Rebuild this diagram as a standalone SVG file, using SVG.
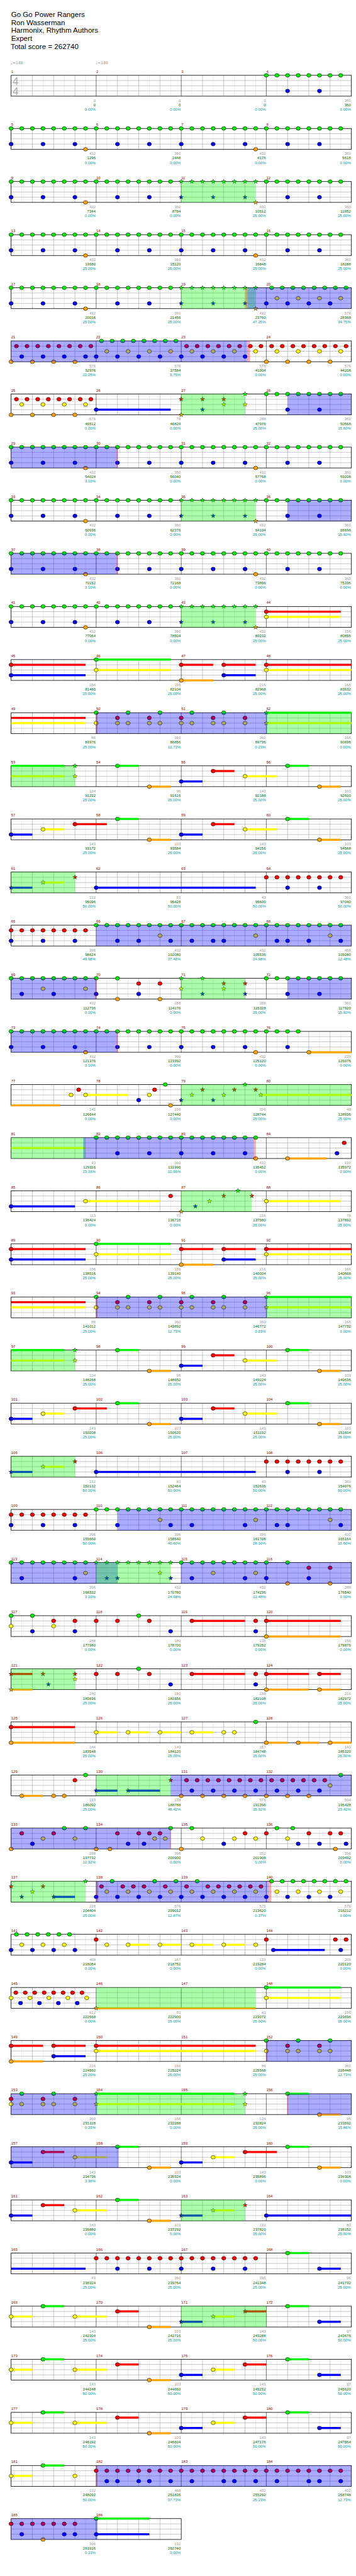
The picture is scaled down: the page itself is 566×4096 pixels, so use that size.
<svg xmlns="http://www.w3.org/2000/svg" width="566" height="4096" viewBox="0 0 566 4096">
<style>
text{font-family:"Liberation Sans",Arial,sans-serif}
.h{font-size:21px;fill:#000}
.n{font-size:11px;fill:#900}
.a{font-size:11px;fill:#999;text-anchor:end}
.b{font-size:11px;fill:#060;text-anchor:end}
.c{font-size:11px;fill:#099;text-anchor:end}
.tp{font-size:11px;fill:#999;font-family:"DejaVu Sans",sans-serif}
.ts{font-size:31px;fill:#aaa;text-anchor:middle}
.zg{fill:#00f000}.zr{fill:#f00}.zy{fill:#ff0}.zb{fill:#00f}.zo{fill:#ffa500}
.ob{fill:#00f;fill-opacity:.33}.og{fill:#0f0;fill-opacity:.33}.oR{fill:#f00;fill-opacity:.33}
</style>
<defs>
<ellipse id="nt" rx="6" ry="5.3" stroke="#000" stroke-width="1"/>
<use id="G" href="#nt" fill="#00f000"/>
<use id="R" href="#nt" y="15" fill="#f00"/>
<use id="Y" href="#nt" y="30" fill="#ff0"/>
<use id="B" href="#nt" y="45" fill="#00f"/>
<use id="O" href="#nt" y="60" fill="#ffa500"/>
<polygon id="st" points="0,-6.5 1.53,-2.1 6.18,-2.01 2.47,0.8 3.82,5.26 0,2.6 -3.82,5.26 -2.47,0.8 -6.18,-2.01 -1.53,-2.1" stroke="#000" stroke-width="0.8"/>
<use id="SG" href="#st" fill="#0f0"/>
<use id="SR" href="#st" y="15" fill="#f00"/>
<use id="SY" href="#st" y="30" fill="#ff0"/>
<use id="SB" href="#st" y="45" fill="#00f"/>
<use id="SO" href="#st" y="60" fill="#ffa500"/>
<g id="grid4" fill="none">
<path stroke="#ddd" d="M62.6 0V60M123.9 0V60M185.1 0V60M246.4 0V60M307.6 0V60M368.9 0V60M430.1 0V60M491.4 0V60M552.6 0V60M613.9 0V60M675.1 0V60M736.4 0V60M797.6 0V60M858.9 0V60M920.1 0V60M981.4 0V60"/>
<path stroke="#999" d="M93.3 0V60M154.5 0V60M215.8 0V60M338.3 0V60M399.5 0V60M460.8 0V60M583.3 0V60M644.5 0V60M705.8 0V60M828.3 0V60M889.5 0V60M950.8 0V60M32 15H1012M32 30H1012M32 45H1012"/>
<path stroke="#000" d="M277 0V60M522 0V60M767 0V60"/>
<rect x="32" y="0" width="980" height="60" stroke="#000" stroke-width="1.5"/>
</g>
<g id="grid2" fill="none">
<path stroke="#ddd" d="M62.6 0V60M123.9 0V60M185.1 0V60M246.4 0V60M307.6 0V60M368.9 0V60M430.1 0V60M491.4 0V60"/>
<path stroke="#999" d="M93.3 0V60M154.5 0V60M215.8 0V60M338.3 0V60M399.5 0V60M460.8 0V60M32 15H522M32 30H522M32 45H522"/>
<path stroke="#000" d="M277 0V60"/>
<rect x="32" y="0" width="490" height="60" stroke="#000" stroke-width="1.5"/>
</g>
<g id="g8"><use href="#G"/><use href="#G" x="30.6"/><use href="#G" x="61.3"/><use href="#G" x="91.9"/><use href="#G" x="122.5"/><use href="#G" x="153.1"/><use href="#G" x="183.8"/><use href="#G" x="214.4"/></g>
<g id="r8"><use href="#R"/><use href="#R" x="30.6"/><use href="#R" x="61.3"/><use href="#R" x="91.9"/><use href="#R" x="122.5"/><use href="#R" x="153.1"/><use href="#R" x="183.8"/><use href="#R" x="214.4"/></g>
<g id="sg8"><use href="#SG"/><use href="#SG" x="30.6"/><use href="#SG" x="61.3"/><use href="#SG" x="91.9"/><use href="#SG" x="122.5"/><use href="#SG" x="153.1"/><use href="#SG" x="183.8"/><use href="#SG" x="214.4"/></g>
<g id="g8o"><use href="#G" x="15.3"/><use href="#G" x="45.9"/><use href="#G" x="76.6"/><use href="#G" x="107.2"/><use href="#G" x="137.8"/><use href="#G" x="168.4"/><use href="#G" x="199.1"/><use href="#G" x="229.7"/></g>
<g id="r8o"><use href="#R" x="15.3"/><use href="#R" x="45.9"/><use href="#R" x="76.6"/><use href="#R" x="107.2"/><use href="#R" x="137.8"/><use href="#R" x="168.4"/><use href="#R" x="199.1"/><use href="#R" x="229.7"/></g>
<g id="y4o"><use href="#Y" x="30.6"/><use href="#Y" x="91.9"/><use href="#Y" x="153.1"/><use href="#Y" x="214.4"/></g>
<g id="b4o"><use href="#B" x="30.6"/><use href="#B" x="91.9"/><use href="#B" x="153.1"/><use href="#B" x="214.4"/></g>
<g id="b4e"><use href="#B"/><use href="#B" x="61.3"/><use href="#B" x="122.5"/><use href="#B" x="183.8"/></g>
<g id="o4e"><use href="#O"/><use href="#O" x="61.3"/><use href="#O" x="122.5"/><use href="#O" x="183.8"/></g>
<g id="q1"><use href="#g8o"/><use href="#y4o"/><use href="#b4e"/></g>
<g id="q2"><use href="#r8o"/><use href="#b4o"/><use href="#o4e"/></g>
<g id="q3"><use href="#r8o"/><use href="#y4o"/><use href="#b4e"/></g>
<g id="q4"><use href="#r8o"/><use href="#y4o"/><use href="#o4e"/></g>
<g id="mA"><use href="#g8"/><use href="#B"/><use href="#B" x="91.9"/><use href="#B" x="183.8"/><use href="#O" x="214.4"/></g>
<g id="mB"><use href="#g8"/><use href="#B" x="61.3"/><use href="#B" x="153.1"/></g>
<g id="mAS"><use href="#sg8"/><use href="#SB"/><use href="#SB" x="91.9"/><use href="#SB" x="183.8"/><use href="#SO" x="214.4"/></g>
<g id="P7"><use href="#mA" x="32"/><use href="#mB" x="277"/><use href="#mA" x="522"/><use href="#mB" x="767"/><rect class="ob" x="32" y="0" width="306.3" height="60"/><rect class="oR" x="336.5" y="0" width="3" height="60"/></g>
<g id="P11">
<rect class="zr" x="32" y="12" width="214.4" height="6"/><rect class="zb" x="32" y="42" width="214.4" height="6"/><use href="#R" x="32"/><use href="#B" x="32"/>
<rect class="zg" x="277" y="-3" width="214.4" height="6"/><rect class="zy" x="277" y="27" width="214.4" height="6"/><use href="#G" x="277"/><use href="#Y" x="277"/>
<rect class="zr" x="522" y="12" width="91.9" height="6"/><rect class="zo" x="522" y="57" width="91.9" height="6"/><use href="#R" x="522"/><use href="#O" x="522"/>
<rect class="zr" x="644.5" y="12" width="91.9" height="6"/><rect class="zb" x="644.5" y="42" width="91.9" height="6"/><use href="#R" x="644.5"/><use href="#B" x="644.5"/>
<rect class="zr" x="767" y="12" width="245" height="6"/><rect class="zy" x="767" y="27" width="245" height="6"/><use href="#R" x="767"/><use href="#Y" x="767"/>
</g>
<g id="P12">
<rect class="zr" x="32" y="12" width="214.4" height="6"/><rect class="zy" x="32" y="27" width="214.4" height="6"/>
<use href="#G" x="277"/><use href="#Y" x="277"/><use href="#R" x="338.3"/><use href="#R" x="430.1"/><use href="#G" x="368.9"/><use href="#G" x="460.8"/><use href="#Y" x="338.3"/><use href="#Y" x="368.9"/><use href="#Y" x="430.1"/><use href="#Y" x="460.8"/>
<use href="#G" x="552.6"/><use href="#G" x="644.5"/><use href="#R" x="522"/><use href="#R" x="613.9"/><use href="#R" x="705.8"/><use href="#Y" x="522"/><use href="#Y" x="552.6"/><use href="#Y" x="613.9"/><use href="#Y" x="644.5"/><use href="#Y" x="705.8"/>
<rect class="zg" x="767" y="-3" width="245" height="6"/><rect class="zy" x="767" y="27" width="245" height="6"/><use href="#SG" x="767"/><use href="#SY" x="767"/>
<rect class="oR" x="277" y="0" width="4" height="60"/><rect class="ob" x="277" y="0" width="493" height="60"/><rect class="og" x="767" y="0" width="245" height="60"/>
</g>
<g id="P13">
<rect class="zg" x="32" y="-3" width="153.1" height="6"/><rect class="zy" x="32" y="27" width="153.1" height="6"/><use href="#SG" x="215.8"/><use href="#SY" x="215.8"/>
<rect class="zg" x="338.3" y="-3" width="61.2" height="6"/><use href="#G" x="338.3"/><rect class="zo" x="430.1" y="57" width="61.3" height="6"/><use href="#O" x="430.1"/>
<rect class="zb" x="522" y="42" width="61.3" height="6"/><use href="#B" x="522"/><rect class="zr" x="613.9" y="12" width="61.2" height="6"/><use href="#R" x="613.9"/><rect class="zy" x="705.8" y="27" width="91.8" height="6"/><use href="#Y" x="705.8"/>
<rect class="zg" x="828.3" y="-3" width="61.2" height="6"/><use href="#G" x="828.3"/><rect class="zo" x="920.1" y="57" width="61.3" height="6"/><use href="#O" x="920.1"/>
<rect class="og" x="32" y="0" width="183.8" height="60"/>
</g>
<g id="P14">
<rect class="zb" x="32" y="42" width="61.3" height="6"/><use href="#B" x="32"/><rect class="zy" x="123.9" y="27" width="61.2" height="6"/><use href="#Y" x="123.9"/><rect class="zr" x="215.8" y="12" width="91.8" height="6"/><use href="#R" x="215.8"/>
<rect class="zg" x="338.3" y="-3" width="61.2" height="6"/><use href="#G" x="338.3"/><rect class="zo" x="430.1" y="57" width="61.3" height="6"/><use href="#O" x="430.1"/>
<rect class="zb" x="522" y="42" width="61.3" height="6"/><use href="#B" x="522"/><rect class="zr" x="613.9" y="12" width="61.2" height="6"/><use href="#R" x="613.9"/><rect class="zy" x="705.8" y="27" width="91.8" height="6"/><use href="#Y" x="705.8"/>
<rect class="zg" x="828.3" y="-3" width="61.2" height="6"/><use href="#G" x="828.3"/><rect class="zo" x="920.1" y="57" width="61.3" height="6"/><use href="#O" x="920.1"/>
</g>
<g id="P15">
<rect class="zb" x="32" y="42" width="61.3" height="6"/><use href="#SB" x="32"/><rect class="zy" x="123.9" y="27" width="61.2" height="6"/><use href="#SY" x="123.9"/><use href="#SR" x="215.8"/>
<rect class="zb" x="277" y="42" width="459.4" height="6"/><use href="#B" x="277"/>
<use href="#r8" x="767"/><use href="#B" x="828.3"/><use href="#B" x="920.1"/>
<rect class="og" x="32" y="0" width="183.8" height="60"/>
</g>
<g id="P43">
<rect class="zy" x="32" y="27" width="61.3" height="6"/><use href="#Y" x="32"/><rect class="zg" x="123.9" y="-3" width="61.2" height="6"/><use href="#G" x="123.9"/><rect class="zy" x="215.8" y="27" width="91.8" height="6"/><use href="#Y" x="215.8"/>
<rect class="zr" x="338.3" y="12" width="61.2" height="6"/><use href="#R" x="338.3"/><rect class="zo" x="430.1" y="57" width="61.3" height="6"/><use href="#O" x="430.1"/>
<rect class="zb" x="522" y="42" width="61.3" height="6"/><use href="#B" x="522"/><rect class="zy" x="613.9" y="27" width="61.2" height="6"/><use href="#Y" x="613.9"/><rect class="zr" x="705.8" y="12" width="61.2" height="6"/><use href="#R" x="705.8"/>
<rect class="zg" x="828.3" y="-3" width="61.2" height="6"/><use href="#G" x="828.3"/><rect class="zb" x="920.1" y="42" width="61.3" height="6"/><use href="#B" x="920.1"/>
</g>
</defs>
<rect x="0" y="0" width="566" height="4096" fill="#fff"/>
<g transform="scale(0.552)">
<g id="header">
<text class="h" x="32" y="49">Go Go Power Rangers</text>
<text class="h" x="32" y="72">Ron Wasserman</text>
<text class="h" x="32" y="95">Harmonix, Rhythm Authors</text>
<text class="h" x="32" y="118">Expert</text>
<text class="h" x="31" y="141">Total score = 262740</text>
</g>

<g id="row0" transform="translate(0,217)"><use href="#grid4"/>
<text class="tp" x="31" y="-33">♩=188</text><text class="tp" x="276" y="-33">♩=188</text>
<text class="ts" x="45" y="28">4</text><text class="ts" x="45" y="56">4</text>
<use href="#mB" x="767"/>
<text class="n" y="-7"><tspan x="32">1</tspan><tspan x="277">2</tspan><tspan x="522">3</tspan><tspan x="767">4</tspan></text>
<text class="a" y="76"><tspan x="275.5">0</tspan><tspan x="520.5">0</tspan><tspan x="765.5">0</tspan><tspan x="1010.5">360</tspan></text>
<text class="b" y="89"><tspan x="275.5">0</tspan><tspan x="520.5">0</tspan><tspan x="765.5">0</tspan><tspan x="1010.5">360</tspan></text>
<text class="c" y="102"><tspan x="275.5">0.00%</tspan><tspan x="520.5">0.00%</tspan><tspan x="765.5">0.00%</tspan><tspan x="1010.5">0.00%</tspan></text>
</g>

<g id="row1" transform="translate(0,370)"><use href="#grid4"/>
<use href="#mA" x="32"/><use href="#mB" x="277"/><use href="#mA" x="522"/><use href="#mB" x="767"/>
<text class="n" y="-7"><tspan x="32">5</tspan><tspan x="277">6</tspan><tspan x="522">7</tspan><tspan x="767">8</tspan></text>
<text class="a" y="76"><tspan x="275.5">432</tspan><tspan x="520.5">360</tspan><tspan x="765.5">432</tspan><tspan x="1010.5">360</tspan></text>
<text class="b" y="89"><tspan x="275.5">1296</tspan><tspan x="520.5">2448</tspan><tspan x="765.5">4176</tspan><tspan x="1010.5">5616</tspan></text>
<text class="c" y="102"><tspan x="275.5">0.00%</tspan><tspan x="520.5">0.00%</tspan><tspan x="765.5">0.00%</tspan><tspan x="1010.5">0.00%</tspan></text>
</g>

<g id="row2" transform="translate(0,523)"><use href="#grid4"/>
<use href="#mA" x="32"/><use href="#mB" x="277"/><use href="#mAS" x="522"/><use href="#mB" x="767"/>
<rect class="og" x="522" y="0" width="214.4" height="60"/>
<text class="n" y="-7"><tspan x="32">9</tspan><tspan x="277">10</tspan><tspan x="522">11</tspan><tspan x="767">12</tspan></text>
<text class="a" y="76"><tspan x="275.5">432</tspan><tspan x="520.5">360</tspan><tspan x="765.5">432</tspan><tspan x="1010.5">360</tspan></text>
<text class="b" y="89"><tspan x="275.5">7344</tspan><tspan x="520.5">8784</tspan><tspan x="765.5">10512</tspan><tspan x="1010.5">11952</tspan></text>
<text class="c" y="102"><tspan x="275.5">0.00%</tspan><tspan x="520.5">0.00%</tspan><tspan x="765.5">25.00%</tspan><tspan x="1010.5">25.00%</tspan></text>
</g>

<g id="row3" transform="translate(0,676)"><use href="#grid4"/>
<use href="#mA" x="32"/><use href="#mB" x="277"/><use href="#mA" x="522"/><use href="#mB" x="767"/>
<text class="n" y="-7"><tspan x="32">13</tspan><tspan x="277">14</tspan><tspan x="522">15</tspan><tspan x="767">16</tspan></text>
<text class="a" y="76"><tspan x="275.5">432</tspan><tspan x="520.5">360</tspan><tspan x="765.5">432</tspan><tspan x="1010.5">360</tspan></text>
<text class="b" y="89"><tspan x="275.5">13680</tspan><tspan x="520.5">15120</tspan><tspan x="765.5">16848</tspan><tspan x="1010.5">18288</tspan></text>
<text class="c" y="102"><tspan x="275.5">25.00%</tspan><tspan x="520.5">25.00%</tspan><tspan x="765.5">25.00%</tspan><tspan x="1010.5">25.00%</tspan></text>
</g>

<g id="row4" transform="translate(0,829)"><use href="#grid4"/>
<use href="#mA" x="32"/><use href="#mB" x="277"/><use href="#mAS" x="522"/><use href="#q1" x="767"/>
<rect class="og" x="522" y="0" width="214.4" height="60"/><rect class="oR" x="707" y="0" width="6" height="60"/><rect class="ob" x="713" y="0" width="299" height="60"/>
<text class="n" y="-7"><tspan x="32">17</tspan><tspan x="277">18</tspan><tspan x="522">19</tspan><tspan x="767">20</tspan></text>
<text class="a" y="76"><tspan x="275.5">432</tspan><tspan x="520.5">360</tspan><tspan x="765.5">432</tspan><tspan x="1010.5">576</tspan></text>
<text class="b" y="89"><tspan x="275.5">20016</tspan><tspan x="520.5">21456</tspan><tspan x="765.5">23760</tspan><tspan x="1010.5">28368</tspan></text>
<text class="c" y="102"><tspan x="275.5">25.00%</tspan><tspan x="520.5">25.00%</tspan><tspan x="765.5">47.25%</tspan><tspan x="1010.5">34.75%</tspan></text>
</g>

<g id="row5" transform="translate(0,982)"><use href="#grid4"/>
<use href="#q2" x="32"/><use href="#q1" x="277"/><use href="#q3" x="522"/><use href="#q4" x="767"/>
<rect class="ob" x="32" y="0" width="681" height="60"/><rect class="oR" x="713" y="0" width="7" height="60"/>
<text class="n" y="-7"><tspan x="32">21</tspan><tspan x="277">22</tspan><tspan x="522">23</tspan><tspan x="767">24</tspan></text>
<text class="a" y="76"><tspan x="275.5">576</tspan><tspan x="520.5">576</tspan><tspan x="765.5">576</tspan><tspan x="1010.5">576</tspan></text>
<text class="b" y="89"><tspan x="275.5">32976</tspan><tspan x="520.5">37584</tspan><tspan x="765.5">41904</tspan><tspan x="1010.5">44208</tspan></text>
<text class="c" y="102"><tspan x="275.5">22.25%</tspan><tspan x="520.5">9.75%</tspan><tspan x="765.5">0.00%</tspan><tspan x="1010.5">0.00%</tspan></text>
</g>

<g id="row6" transform="translate(0,1135)"><use href="#grid4"/>
<use href="#q4" x="32"/>
<rect class="zb" x="277" y="42" width="214.4" height="6"/><use href="#B" x="277"/>
<use href="#SR" x="522"/><use href="#SO" x="522"/><use href="#SR" x="583.3"/><use href="#SB" x="583.3"/><use href="#SR" x="644.5"/><use href="#SY" x="644.5"/><use href="#SG" x="705.8"/><use href="#SY" x="705.8"/>
<use href="#mB" x="767"/>
<rect class="og" x="522" y="0" width="183.8" height="60"/><rect class="ob" x="828.3" y="0" width="183.7" height="60"/>
<text class="n" y="-7"><tspan x="32">25</tspan><tspan x="277">26</tspan><tspan x="522">27</tspan><tspan x="767">28</tspan></text>
<text class="a" y="76"><tspan x="275.5">576</tspan><tspan x="520.5">78</tspan><tspan x="765.5">288</tspan><tspan x="1010.5">360</tspan></text>
<text class="b" y="89"><tspan x="275.5">46512</tspan><tspan x="520.5">46824</tspan><tspan x="765.5">47976</tspan><tspan x="1010.5">50568</tspan></text>
<text class="c" y="102"><tspan x="275.5">0.00%</tspan><tspan x="520.5">0.00%</tspan><tspan x="765.5">25.00%</tspan><tspan x="1010.5">15.60%</tspan></text>
</g>

<g id="row7" transform="translate(0,1288)"><use href="#grid4"/><use href="#P7"/>
<text class="n" y="-7"><tspan x="32">29</tspan><tspan x="277">30</tspan><tspan x="522">31</tspan><tspan x="767">32</tspan></text>
<text class="a" y="76"><tspan x="275.5">432</tspan><tspan x="520.5">360</tspan><tspan x="765.5">432</tspan><tspan x="1010.5">360</tspan></text>
<text class="b" y="89"><tspan x="275.5">54024</tspan><tspan x="520.5">56040</tspan><tspan x="765.5">57768</tspan><tspan x="1010.5">59208</tspan></text>
<text class="c" y="102"><tspan x="275.5">3.10%</tspan><tspan x="520.5">0.00%</tspan><tspan x="765.5">0.00%</tspan><tspan x="1010.5">0.00%</tspan></text>
</g>

<g id="row8" transform="translate(0,1441)"><use href="#grid4"/>
<use href="#mA" x="32"/><use href="#mB" x="277"/><use href="#mAS" x="522"/><use href="#mB" x="767"/>
<rect class="og" x="522" y="0" width="214.4" height="60"/><rect class="ob" x="828.3" y="0" width="183.7" height="60"/>
<text class="n" y="-7"><tspan x="32">33</tspan><tspan x="277">34</tspan><tspan x="522">35</tspan><tspan x="767">36</tspan></text>
<text class="a" y="76"><tspan x="275.5">432</tspan><tspan x="520.5">360</tspan><tspan x="765.5">432</tspan><tspan x="1010.5">360</tspan></text>
<text class="b" y="89"><tspan x="275.5">60936</tspan><tspan x="520.5">62376</tspan><tspan x="765.5">64104</tspan><tspan x="1010.5">66696</tspan></text>
<text class="c" y="102"><tspan x="275.5">0.00%</tspan><tspan x="520.5">0.00%</tspan><tspan x="765.5">25.00%</tspan><tspan x="1010.5">15.60%</tspan></text>
</g>

<g id="row9" transform="translate(0,1594)"><use href="#grid4"/><use href="#P7"/>
<text class="n" y="-7"><tspan x="32">37</tspan><tspan x="277">38</tspan><tspan x="522">39</tspan><tspan x="767">40</tspan></text>
<text class="a" y="76"><tspan x="275.5">432</tspan><tspan x="520.5">360</tspan><tspan x="765.5">432</tspan><tspan x="1010.5">360</tspan></text>
<text class="b" y="89"><tspan x="275.5">70152</tspan><tspan x="520.5">72168</tspan><tspan x="765.5">73896</tspan><tspan x="1010.5">75336</tspan></text>
<text class="c" y="102"><tspan x="275.5">3.10%</tspan><tspan x="520.5">0.00%</tspan><tspan x="765.5">0.00%</tspan><tspan x="1010.5">0.00%</tspan></text>
</g>

<g id="row10" transform="translate(0,1747)"><use href="#grid4"/>
<use href="#mA" x="32"/><use href="#mB" x="277"/><use href="#mAS" x="522"/>
<rect class="zr" x="767" y="12" width="214.4" height="6"/><rect class="zy" x="767" y="27" width="214.4" height="6"/><use href="#R" x="767"/><use href="#Y" x="767"/>
<rect class="og" x="522" y="0" width="214.4" height="60"/>
<text class="n" y="-7"><tspan x="32">41</tspan><tspan x="277">42</tspan><tspan x="522">43</tspan><tspan x="767">44</tspan></text>
<text class="a" y="76"><tspan x="275.5">432</tspan><tspan x="520.5">360</tspan><tspan x="765.5">432</tspan><tspan x="1010.5">156</tspan></text>
<text class="b" y="89"><tspan x="275.5">77064</tspan><tspan x="520.5">78504</tspan><tspan x="765.5">80232</tspan><tspan x="1010.5">80856</tspan></text>
<text class="c" y="102"><tspan x="275.5">0.00%</tspan><tspan x="520.5">0.00%</tspan><tspan x="765.5">25.00%</tspan><tspan x="1010.5">25.00%</tspan></text>
</g>

<g id="row11" transform="translate(0,1900)"><use href="#grid4"/><use href="#P11"/>
<text class="n" y="-7"><tspan x="32">45</tspan><tspan x="277">46</tspan><tspan x="522">47</tspan><tspan x="767">48</tspan></text>
<text class="a" y="76"><tspan x="275.5">156</tspan><tspan x="520.5">156</tspan><tspan x="765.5">216</tspan><tspan x="1010.5">166</tspan></text>
<text class="b" y="89"><tspan x="275.5">81480</tspan><tspan x="520.5">82104</tspan><tspan x="765.5">82968</tspan><tspan x="1010.5">83632</tspan></text>
<text class="c" y="102"><tspan x="275.5">25.00%</tspan><tspan x="520.5">25.00%</tspan><tspan x="765.5">25.00%</tspan><tspan x="1010.5">25.00%</tspan></text>
</g>

<g id="row12" transform="translate(0,2053)"><use href="#grid4"/><use href="#P12"/>
<text class="n" y="-7"><tspan x="32">49</tspan><tspan x="277">50</tspan><tspan x="522">51</tspan><tspan x="767">52</tspan></text>
<text class="a" y="76"><tspan x="275.5">86</tspan><tspan x="520.5">360</tspan><tspan x="765.5">360</tspan><tspan x="1010.5">166</tspan></text>
<text class="b" y="89"><tspan x="275.5">83976</tspan><tspan x="520.5">86856</tspan><tspan x="765.5">89736</tspan><tspan x="1010.5">90696</tspan></text>
<text class="c" y="102"><tspan x="275.5">25.00%</tspan><tspan x="520.5">12.73%</tspan><tspan x="765.5">0.23%</tspan><tspan x="1010.5">0.00%</tspan></text>
</g>

<g id="row13" transform="translate(0,2206)"><use href="#grid4"/><use href="#P13"/>
<text class="n" y="-7"><tspan x="32">53</tspan><tspan x="277">54</tspan><tspan x="522">55</tspan><tspan x="767">56</tspan></text>
<text class="a" y="76"><tspan x="275.5">134</tspan><tspan x="520.5">96</tspan><tspan x="765.5">143</tspan><tspan x="1010.5">103</tspan></text>
<text class="b" y="89"><tspan x="275.5">91232</tspan><tspan x="520.5">91616</tspan><tspan x="765.5">92188</tspan><tspan x="1010.5">92600</tspan></text>
<text class="c" y="102"><tspan x="275.5">25.00%</tspan><tspan x="520.5">25.00%</tspan><tspan x="765.5">25.00%</tspan><tspan x="1010.5">25.00%</tspan></text>
</g>

<g id="row14" transform="translate(0,2359)"><use href="#grid4"/><use href="#P14"/>
<text class="n" y="-7"><tspan x="32">57</tspan><tspan x="277">58</tspan><tspan x="522">59</tspan><tspan x="767">60</tspan></text>
<text class="a" y="76"><tspan x="275.5">143</tspan><tspan x="520.5">103</tspan><tspan x="765.5">143</tspan><tspan x="1010.5">103</tspan></text>
<text class="b" y="89"><tspan x="275.5">93172</tspan><tspan x="520.5">93584</tspan><tspan x="765.5">94156</tspan><tspan x="1010.5">94568</tspan></text>
<text class="c" y="102"><tspan x="275.5">25.00%</tspan><tspan x="520.5">25.00%</tspan><tspan x="765.5">25.00%</tspan><tspan x="1010.5">25.00%</tspan></text>
</g>

<g id="row15" transform="translate(0,2512)"><use href="#grid4"/><use href="#P15"/>
<text class="n" y="-7"><tspan x="32">61</tspan><tspan x="277">62</tspan><tspan x="522">63</tspan><tspan x="767">64</tspan></text>
<text class="a" y="76"><tspan x="275.5">132</tspan><tspan x="520.5">83</tspan><tspan x="765.5">43</tspan><tspan x="1010.5">360</tspan></text>
<text class="b" y="89"><tspan x="275.5">95096</tspan><tspan x="520.5">95428</tspan><tspan x="765.5">95600</tspan><tspan x="1010.5">97040</tspan></text>
<text class="c" y="102"><tspan x="275.5">50.00%</tspan><tspan x="520.5">50.00%</tspan><tspan x="765.5">50.00%</tspan><tspan x="1010.5">50.00%</tspan></text>
</g>

<g id="row16" transform="translate(0,2665)"><use href="#grid4"/>
<use href="#r8" x="32"/><use href="#B" x="32"/><use href="#B" x="123.9"/><use href="#B" x="215.8"/>
<use href="#g8" x="277"/><use href="#Y" x="460.8"/><use href="#B" x="338.3"/><use href="#B" x="399.5"/><use href="#B" x="491.4"/>
<use href="#g8" x="522"/><use href="#Y" x="736.4"/><use href="#B" x="552.6"/><use href="#B" x="613.9"/><use href="#B" x="644.5"/>
<use href="#g8" x="767"/><use href="#Y" x="950.8"/><use href="#B" x="797.6"/><use href="#B" x="828.3"/><use href="#B" x="889.5"/><use href="#B" x="981.4"/>
<rect class="ob" x="277" y="0" width="735" height="60"/>
<text class="n" y="-7"><tspan x="32">65</tspan><tspan x="277">66</tspan><tspan x="522">67</tspan><tspan x="767">68</tspan></text>
<text class="a" y="76"><tspan x="275.5">396</tspan><tspan x="520.5">432</tspan><tspan x="765.5">432</tspan><tspan x="1010.5">468</tspan></text>
<text class="b" y="89"><tspan x="275.5">98624</tspan><tspan x="520.5">102080</tspan><tspan x="765.5">105536</tspan><tspan x="1010.5">109280</tspan></text>
<text class="c" y="102"><tspan x="275.5">49.98%</tspan><tspan x="520.5">37.48%</tspan><tspan x="765.5">24.98%</tspan><tspan x="1010.5">12.48%</tspan></text>
</g>

<g id="row17" transform="translate(0,2818)"><use href="#grid4"/>
<use href="#g8" x="32"/><use href="#Y" x="123.9"/><use href="#Y" x="246.4"/><use href="#B" x="62.6"/><use href="#B" x="154.5"/>
<use href="#G" x="277"/><use href="#G" x="338.3"/><use href="#R" x="399.5"/><use href="#R" x="460.8"/><use href="#B" x="277"/><use href="#B" x="399.5"/><use href="#O" x="338.3"/><use href="#O" x="460.8"/>
<use href="#SG" x="522"/><use href="#SG" x="583.3"/><use href="#SY" x="522"/><use href="#SY" x="644.5"/><use href="#SR" x="644.5"/><use href="#SR" x="705.8"/><use href="#SB" x="583.3"/><use href="#SB" x="705.8"/>
<use href="#mB" x="767"/>
<rect class="ob" x="32" y="0" width="245" height="60"/><rect class="oR" x="275" y="0" width="3" height="60"/><rect class="og" x="522" y="0" width="183.8" height="60"/><rect class="ob" x="828.3" y="0" width="183.7" height="60"/>
<text class="n" y="-7"><tspan x="32">69</tspan><tspan x="277">70</tspan><tspan x="522">71</tspan><tspan x="767">72</tspan></text>
<text class="a" y="76"><tspan x="275.5">432</tspan><tspan x="520.5">288</tspan><tspan x="765.5">288</tspan><tspan x="1010.5">360</tspan></text>
<text class="b" y="89"><tspan x="275.5">112736</tspan><tspan x="520.5">114176</tspan><tspan x="765.5">115328</tspan><tspan x="1010.5">117920</tspan></text>
<text class="c" y="102"><tspan x="275.5">0.00%</tspan><tspan x="520.5">0.00%</tspan><tspan x="765.5">25.00%</tspan><tspan x="1010.5">15.60%</tspan></text>
</g>

<g id="row18" transform="translate(0,2971)"><use href="#grid4"/>
<use href="#mA" x="32"/><use href="#mB" x="277"/><use href="#mA" x="522"/>
<use href="#G" x="767"/><use href="#G" x="797.6"/><use href="#G" x="828.3"/><use href="#G" x="858.9"/><use href="#B" x="828.3"/>
<rect class="zo" x="889.5" y="57" width="122.5" height="6"/><use href="#O" x="889.5"/>
<rect class="ob" x="32" y="0" width="306.3" height="60"/><rect class="oR" x="336.5" y="0" width="3" height="60"/>
<text class="n" y="-7"><tspan x="32">73</tspan><tspan x="277">74</tspan><tspan x="522">75</tspan><tspan x="767">76</tspan></text>
<text class="a" y="76"><tspan x="275.5">432</tspan><tspan x="520.5">360</tspan><tspan x="765.5">432</tspan><tspan x="1010.5">239</tspan></text>
<text class="b" y="89"><tspan x="275.5">121376</tspan><tspan x="520.5">123392</tspan><tspan x="765.5">125120</tspan><tspan x="1010.5">126076</tspan></text>
<text class="c" y="102"><tspan x="275.5">3.10%</tspan><tspan x="520.5">0.00%</tspan><tspan x="765.5">0.00%</tspan><tspan x="1010.5">0.00%</tspan></text>
</g>

<g id="row19" transform="translate(0,3124)"><use href="#grid4"/>
<rect class="zo" x="32" y="57" width="141.3" height="6"/><use href="#Y" x="204.7"/><use href="#R" x="226.7"/>
<rect class="zy" x="246.4" y="27" width="122.3" height="6"/><use href="#Y" x="246.4"/>
<use href="#B" x="399.5"/><use href="#Y" x="430.1"/><use href="#R" x="445.3"/><use href="#G" x="476"/><use href="#O" x="491.4"/>
<use href="#SB" x="522"/><use href="#SY" x="552.6"/><use href="#SR" x="583.3"/><use href="#SB" x="613.9"/><use href="#SY" x="644.5"/><use href="#SR" x="675.1"/><use href="#SG" x="705.8"/><use href="#SR" x="736.4"/>
<rect class="zy" x="751.3" y="27" width="260.7" height="6"/><use href="#SY" x="751.3"/>
<rect class="og" x="522" y="0" width="490" height="60"/>
<text class="n" y="-7"><tspan x="32">77</tspan><tspan x="277">78</tspan><tspan x="522">79</tspan><tspan x="767">80</tspan></text>
<text class="a" y="76"><tspan x="275.5">142</tspan><tspan x="520.5">199</tspan><tspan x="765.5">326</tspan><tspan x="1010.5">48</tspan></text>
<text class="b" y="89"><tspan x="275.5">126644</tspan><tspan x="520.5">127440</tspan><tspan x="765.5">128744</tspan><tspan x="1010.5">128936</tspan></text>
<text class="c" y="102"><tspan x="275.5">0.00%</tspan><tspan x="520.5">0.00%</tspan><tspan x="765.5">25.00%</tspan><tspan x="1010.5">25.00%</tspan></text>
</g>

<g id="row20" transform="translate(0,3277)"><use href="#grid4"/>
<rect class="zy" x="32" y="27" width="214.7" height="6"/>
<use href="#g8" x="277"/><use href="#B" x="338.3"/><use href="#B" x="430.1"/>
<use href="#g8" x="522"/><use href="#B" x="522"/><use href="#B" x="613.9"/><use href="#B" x="705.8"/><use href="#O" x="736.4"/>
<rect class="zo" x="828.3" y="57" width="111.7" height="6"/><use href="#O" x="828.3"/><use href="#B" x="970.7"/><use href="#R" x="991.3"/>
<rect class="og" x="32" y="0" width="214.7" height="60"/><rect class="ob" x="240" y="0" width="491.3" height="60"/><rect class="oR" x="731.3" y="0" width="5" height="60"/>
<text class="n" y="-7"><tspan x="32">81</tspan><tspan x="277">82</tspan><tspan x="522">83</tspan><tspan x="767">84</tspan></text>
<text class="a" y="76"><tspan x="275.5">43</tspan><tspan x="520.5">360</tspan><tspan x="765.5">432</tspan><tspan x="1010.5">130</tspan></text>
<text class="b" y="89"><tspan x="275.5">129116</tspan><tspan x="520.5">131996</tspan><tspan x="765.5">135452</tspan><tspan x="1010.5">135972</tspan></text>
<text class="c" y="102"><tspan x="275.5">23.16%</tspan><tspan x="520.5">10.66%</tspan><tspan x="765.5">0.00%</tspan><tspan x="1010.5">0.00%</tspan></text>
</g>

<g id="row21" transform="translate(0,3430)"><use href="#grid4"/>
<rect class="zb" x="32" y="42" width="183.8" height="6"/><use href="#B" x="32"/>
<rect class="zy" x="246.4" y="27" width="214.4" height="6"/><use href="#Y" x="246.4"/>
<use href="#R" x="491.4"/>
<use href="#SO" x="522"/><use href="#SB" x="562.7"/><use href="#SY" x="603.3"/><use href="#SR" x="644.5"/><use href="#SG" x="685.3"/><use href="#SR" x="725.3"/>
<rect class="zy" x="767" y="27" width="214.4" height="6"/><use href="#Y" x="767"/>
<rect class="og" x="522" y="0" width="203.3" height="60"/>
<text class="n" y="-7"><tspan x="32">85</tspan><tspan x="277">86</tspan><tspan x="522">87</tspan><tspan x="767">88</tspan></text>
<text class="a" y="76"><tspan x="275.5">113</tspan><tspan x="520.5">73</tspan><tspan x="765.5">216</tspan><tspan x="1010.5">78</tspan></text>
<text class="b" y="89"><tspan x="275.5">136424</tspan><tspan x="520.5">136716</tspan><tspan x="765.5">137580</tspan><tspan x="1010.5">137892</tspan></text>
<text class="c" y="102"><tspan x="275.5">0.00%</tspan><tspan x="520.5">0.00%</tspan><tspan x="765.5">25.00%</tspan><tspan x="1010.5">25.00%</tspan></text>
</g>

<g id="row22" transform="translate(0,3583)"><use href="#grid4"/><use href="#P11"/>
<text class="n" y="-7"><tspan x="32">89</tspan><tspan x="277">90</tspan><tspan x="522">91</tspan><tspan x="767">92</tspan></text>
<text class="a" y="76"><tspan x="275.5">156</tspan><tspan x="520.5">156</tspan><tspan x="765.5">216</tspan><tspan x="1010.5">166</tspan></text>
<text class="b" y="89"><tspan x="275.5">138516</tspan><tspan x="520.5">139140</tspan><tspan x="765.5">140004</tspan><tspan x="1010.5">140668</tspan></text>
<text class="c" y="102"><tspan x="275.5">25.00%</tspan><tspan x="520.5">25.00%</tspan><tspan x="765.5">25.00%</tspan><tspan x="1010.5">25.00%</tspan></text>
</g>

<g id="row23" transform="translate(0,3736)"><use href="#grid4"/><use href="#P12"/>
<text class="n" y="-7"><tspan x="32">93</tspan><tspan x="277">94</tspan><tspan x="522">95</tspan><tspan x="767">96</tspan></text>
<text class="a" y="76"><tspan x="275.5">86</tspan><tspan x="520.5">360</tspan><tspan x="765.5">360</tspan><tspan x="1010.5">166</tspan></text>
<text class="b" y="89"><tspan x="275.5">141012</tspan><tspan x="520.5">143892</tspan><tspan x="765.5">146772</tspan><tspan x="1010.5">147732</tspan></text>
<text class="c" y="102"><tspan x="275.5">25.00%</tspan><tspan x="520.5">12.73%</tspan><tspan x="765.5">0.23%</tspan><tspan x="1010.5">0.00%</tspan></text>
</g>

<g id="row24" transform="translate(0,3889)"><use href="#grid4"/><use href="#P13"/>
<text class="n" y="-7"><tspan x="32">97</tspan><tspan x="277">98</tspan><tspan x="522">99</tspan><tspan x="767">100</tspan></text>
<text class="a" y="76"><tspan x="275.5">134</tspan><tspan x="520.5">96</tspan><tspan x="765.5">143</tspan><tspan x="1010.5">103</tspan></text>
<text class="b" y="89"><tspan x="275.5">148268</tspan><tspan x="520.5">148652</tspan><tspan x="765.5">149224</tspan><tspan x="1010.5">149636</tspan></text>
<text class="c" y="102"><tspan x="275.5">25.00%</tspan><tspan x="520.5">25.00%</tspan><tspan x="765.5">25.00%</tspan><tspan x="1010.5">25.00%</tspan></text>
</g>

<g id="row25" transform="translate(0,4042)"><use href="#grid4"/><use href="#P14"/>
<text class="n" y="-7"><tspan x="32">101</tspan><tspan x="277">102</tspan><tspan x="522">103</tspan><tspan x="767">104</tspan></text>
<text class="a" y="76"><tspan x="275.5">143</tspan><tspan x="520.5">103</tspan><tspan x="765.5">143</tspan><tspan x="1010.5">103</tspan></text>
<text class="b" y="89"><tspan x="275.5">150208</tspan><tspan x="520.5">150620</tspan><tspan x="765.5">151192</tspan><tspan x="1010.5">151604</tspan></text>
<text class="c" y="102"><tspan x="275.5">25.00%</tspan><tspan x="520.5">25.00%</tspan><tspan x="765.5">25.00%</tspan><tspan x="1010.5">25.00%</tspan></text>
</g>

<g id="row26" transform="translate(0,4195)"><use href="#grid4"/><use href="#P15"/>
<text class="n" y="-7"><tspan x="32">105</tspan><tspan x="277">106</tspan><tspan x="522">107</tspan><tspan x="767">108</tspan></text>
<text class="a" y="76"><tspan x="275.5">132</tspan><tspan x="520.5">83</tspan><tspan x="765.5">43</tspan><tspan x="1010.5">360</tspan></text>
<text class="b" y="89"><tspan x="275.5">152132</tspan><tspan x="520.5">152464</tspan><tspan x="765.5">152636</tspan><tspan x="1010.5">154076</tspan></text>
<text class="c" y="102"><tspan x="275.5">50.00%</tspan><tspan x="520.5">50.00%</tspan><tspan x="765.5">50.00%</tspan><tspan x="1010.5">50.00%</tspan></text>
</g>

<g id="row27" transform="translate(0,4348)"><use href="#grid4"/>
<use href="#r8" x="32"/><use href="#B" x="32"/><use href="#B" x="123.9"/><use href="#B" x="215.8"/>
<use href="#g8" x="277"/><use href="#Y" x="460.8"/><use href="#B" x="338.3"/><use href="#B" x="491.4"/>
<use href="#g8" x="522"/><use href="#Y" x="736.4"/><use href="#B" x="552.6"/><use href="#B" x="705.8"/>
<use href="#g8" x="767"/><use href="#Y" x="950.8"/><use href="#B" x="797.6"/><use href="#B" x="828.3"/><use href="#B" x="981.4"/>
<rect class="ob" x="338.3" y="0" width="673.7" height="60"/>
<text class="n" y="-7"><tspan x="32">109</tspan><tspan x="277">110</tspan><tspan x="522">111</tspan><tspan x="767">112</tspan></text>
<text class="a" y="76"><tspan x="275.5">396</tspan><tspan x="520.5">396</tspan><tspan x="765.5">396</tspan><tspan x="1010.5">432</tspan></text>
<text class="b" y="89"><tspan x="275.5">155660</tspan><tspan x="520.5">158540</tspan><tspan x="765.5">161708</tspan><tspan x="1010.5">165164</tspan></text>
<text class="c" y="102"><tspan x="275.5">50.00%</tspan><tspan x="520.5">40.60%</tspan><tspan x="765.5">28.10%</tspan><tspan x="1010.5">15.60%</tspan></text>
</g>

<g id="row28" transform="translate(0,4501)"><use href="#grid4"/>
<use href="#g8" x="32"/><use href="#Y" x="246.4"/><use href="#B" x="62.6"/><use href="#B" x="215.8"/>
<use href="#sg8" x="277"/><use href="#SB" x="307.6"/><use href="#SB" x="338.3"/><use href="#SB" x="491.4"/><use href="#SY" x="460.8"/>
<use href="#g8" x="522"/><use href="#Y" x="613.9"/><use href="#Y" x="736.4"/><use href="#B" x="552.6"/><use href="#B" x="705.8"/>
<use href="#G" x="767"/><use href="#G" x="828.3"/><use href="#R" x="889.5"/><use href="#R" x="950.8"/><use href="#B" x="767"/><use href="#B" x="889.5"/><use href="#O" x="828.3"/><use href="#O" x="950.8"/>
<rect class="ob" x="32" y="0" width="306.3" height="60"/><rect class="og" x="277" y="0" width="214.4" height="60"/><rect class="ob" x="522" y="0" width="490" height="60"/>
<text class="n" y="-7"><tspan x="32">113</tspan><tspan x="277">114</tspan><tspan x="522">115</tspan><tspan x="767">116</tspan></text>
<text class="a" y="76"><tspan x="275.5">396</tspan><tspan x="520.5">432</tspan><tspan x="765.5">432</tspan><tspan x="1010.5">288</tspan></text>
<text class="b" y="89"><tspan x="275.5">168332</tspan><tspan x="520.5">170780</tspan><tspan x="765.5">174236</tspan><tspan x="1010.5">176540</tspan></text>
<text class="c" y="102"><tspan x="275.5">3.10%</tspan><tspan x="520.5">24.98%</tspan><tspan x="765.5">12.48%</tspan><tspan x="1010.5">0.00%</tspan></text>
</g>

<g id="row29" transform="translate(0,4654)"><use href="#grid4"/>
<use href="#G" x="32"/><use href="#G" x="93.3"/><use href="#R" x="154.5"/><use href="#R" x="215.8"/><use href="#Y" x="32"/><use href="#Y" x="154.5"/><use href="#B" x="93.3"/><use href="#B" x="215.8"/>
<use href="#R" x="277"/><use href="#R" x="338.3"/><use href="#R" x="430.1"/><use href="#G" x="399.5"/><use href="#B" x="491.4"/>
<rect class="zr" x="552.6" y="12" width="153.2" height="6"/><use href="#R" x="552.6"/><use href="#R" x="736.4"/><use href="#B" x="736.4"/>
<rect class="zr" x="767" y="12" width="214.4" height="6"/><rect class="zo" x="767" y="57" width="214.4" height="6"/><use href="#R" x="767"/><use href="#O" x="767"/>
<text class="n" y="-7"><tspan x="32">117</tspan><tspan x="277">118</tspan><tspan x="522">119</tspan><tspan x="767">120</tspan></text>
<text class="a" y="76"><tspan x="275.5">288</tspan><tspan x="520.5">180</tspan><tspan x="765.5">138</tspan><tspan x="1010.5">156</tspan></text>
<text class="b" y="89"><tspan x="275.5">177980</tspan><tspan x="520.5">178700</tspan><tspan x="765.5">179252</tspan><tspan x="1010.5">179876</tspan></text>
<text class="c" y="102"><tspan x="275.5">0.00%</tspan><tspan x="520.5">0.00%</tspan><tspan x="765.5">0.00%</tspan><tspan x="1010.5">0.00%</tspan></text>
</g>

<g id="row30" transform="translate(0,4807)"><use href="#grid4"/>
<rect class="zr" x="32" y="12" width="61.3" height="6"/><rect class="zo" x="32" y="57" width="61.3" height="6"/><use href="#SR" x="32"/><use href="#SO" x="32"/><use href="#SR" x="123.9"/><use href="#SB" x="139.3"/><use href="#SR" x="215.8"/><use href="#SY" x="215.8"/>
<use href="#R" x="277"/><use href="#R" x="338.3"/><use href="#R" x="430.1"/><use href="#G" x="399.5"/><use href="#B" x="491.4"/>
<rect class="zr" x="552.6" y="12" width="153.2" height="6"/><use href="#R" x="552.6"/><use href="#R" x="736.4"/><use href="#B" x="736.4"/>
<rect class="zr" x="767" y="12" width="122.5" height="6"/><rect class="zo" x="767" y="57" width="122.5" height="6"/><use href="#R" x="767"/><use href="#O" x="767"/>
<rect class="zr" x="920.1" y="12" width="61.3" height="6"/><rect class="zo" x="920.1" y="57" width="61.3" height="6"/><use href="#R" x="920.1"/><use href="#O" x="920.1"/>
<rect class="og" x="32" y="0" width="183.8" height="60"/>
<text class="n" y="-7"><tspan x="32">121</tspan><tspan x="277">122</tspan><tspan x="522">123</tspan><tspan x="767">124</tspan></text>
<text class="a" y="76"><tspan x="275.5">240</tspan><tspan x="520.5">180</tspan><tspan x="765.5">138</tspan><tspan x="1010.5">216</tspan></text>
<text class="b" y="89"><tspan x="275.5">180836</tspan><tspan x="520.5">181556</tspan><tspan x="765.5">182108</tspan><tspan x="1010.5">182972</tspan></text>
<text class="c" y="102"><tspan x="275.5">25.00%</tspan><tspan x="520.5">25.00%</tspan><tspan x="765.5">25.00%</tspan><tspan x="1010.5">25.00%</tspan></text>
</g>

<g id="row31" transform="translate(0,4960)"><use href="#grid4"/>
<rect class="zr" x="32" y="12" width="183.8" height="6"/><rect class="zo" x="32" y="57" width="183.8" height="6"/><use href="#R" x="32"/><use href="#O" x="32"/>
<rect class="zy" x="277" y="27" width="61.3" height="6"/><use href="#Y" x="277"/><rect class="zy" x="368.9" y="27" width="61.2" height="6"/><use href="#Y" x="368.9"/><rect class="zy" x="460.8" y="27" width="61.2" height="6"/><use href="#Y" x="460.8"/>
<rect class="zy" x="552.6" y="27" width="61.3" height="6"/><use href="#Y" x="552.6"/><use href="#Y" x="644.5"/><use href="#Y" x="675.1"/><use href="#G" x="736.4"/>
<rect class="zo" x="767" y="57" width="61.3" height="6"/><use href="#O" x="767"/><rect class="zo" x="858.9" y="57" width="61.2" height="6"/><use href="#O" x="858.9"/><rect class="zo" x="950.8" y="57" width="61.2" height="6"/><use href="#O" x="950.8"/>
<text class="n" y="-7"><tspan x="32">125</tspan><tspan x="277">126</tspan><tspan x="522">127</tspan><tspan x="767">128</tspan></text>
<text class="a" y="76"><tspan x="275.5">144</tspan><tspan x="520.5">143</tspan><tspan x="765.5">157</tspan><tspan x="1010.5">143</tspan></text>
<text class="b" y="89"><tspan x="275.5">183548</tspan><tspan x="520.5">184120</tspan><tspan x="765.5">184748</tspan><tspan x="1010.5">185320</tspan></text>
<text class="c" y="102"><tspan x="275.5">25.00%</tspan><tspan x="520.5">25.00%</tspan><tspan x="765.5">25.00%</tspan><tspan x="1010.5">25.00%</tspan></text>
</g>

<g id="row32" transform="translate(0,5113)"><use href="#grid4"/>
<rect class="zo" x="62.6" y="57" width="61.3" height="6"/><use href="#O" x="62.6"/><use href="#O" x="154.5"/><use href="#O" x="185.1"/><use href="#R" x="215.8"/><use href="#G" x="246.4"/>
<rect class="zb" x="277" y="42" width="61.3" height="6"/><use href="#SB" x="277"/><rect class="zb" x="368.9" y="42" width="91.9" height="6"/><use href="#SB" x="368.9"/><use href="#SR" x="491.4"/>
<use href="#q2" x="522"/>
<use href="#R" x="782.3"/><use href="#R" x="812.9"/><use href="#R" x="843.6"/><use href="#R" x="874.2"/><use href="#R" x="904.8"/><use href="#R" x="935.4"/><use href="#B" x="797.6"/><use href="#B" x="858.9"/><use href="#B" x="920.1"/><use href="#O" x="767"/><use href="#O" x="828.3"/><use href="#O" x="889.5"/><use href="#Y" x="950.8"/><use href="#G" x="981.4"/>
<rect class="og" x="277" y="0" width="214.4" height="60"/><rect class="ob" x="491.4" y="0" width="520.6" height="60"/>
<text class="n" y="-7"><tspan x="32">129</tspan><tspan x="277">130</tspan><tspan x="522">131</tspan><tspan x="767">132</tspan></text>
<text class="a" y="76"><tspan x="275.5">193</tspan><tspan x="520.5">138</tspan><tspan x="765.5">576</tspan><tspan x="1010.5">504</tspan></text>
<text class="b" y="89"><tspan x="275.5">186092</tspan><tspan x="520.5">186788</tspan><tspan x="765.5">191396</tspan><tspan x="1010.5">195428</tspan></text>
<text class="c" y="102"><tspan x="275.5">25.00%</tspan><tspan x="520.5">48.42%</tspan><tspan x="765.5">35.92%</tspan><tspan x="1010.5">23.42%</tspan></text>
</g>

<g id="row33" transform="translate(0,5266)"><use href="#grid4"/>
<use href="#O" x="32"/><use href="#R" x="62.6"/><use href="#R" x="154.5"/><use href="#Y" x="123.9"/><use href="#Y" x="215.8"/><use href="#B" x="93.3"/><use href="#G" x="185.1"/><use href="#G" x="246.4"/>
<use href="#O" x="277"/><use href="#O" x="316.7"/><use href="#R" x="338.3"/><use href="#R" x="399.5"/><use href="#R" x="430.1"/><use href="#R" x="460.8"/><use href="#B" x="368.9"/><use href="#B" x="414.7"/><use href="#Y" x="445.3"/><use href="#Y" x="476"/><use href="#G" x="491.4"/>
<use href="#O" x="522"/><use href="#G" x="552.6"/><use href="#Y" x="583.3"/><use href="#Y" x="675.1"/><use href="#Y" x="736.4"/><use href="#B" x="644.5"/><use href="#R" x="705.8"/>
<use href="#R" x="767"/><use href="#R" x="889.5"/><use href="#R" x="950.8"/><use href="#R" x="981.4"/><use href="#G" x="797.6"/><use href="#G" x="843.3"/><use href="#Y" x="828.3"/><use href="#B" x="858.9"/><use href="#B" x="920.1"/><use href="#B" x="996.7"/><use href="#O" x="966"/>
<rect class="ob" x="32" y="0" width="459.4" height="60"/><rect class="oR" x="490" y="0" width="3" height="60"/>
<text class="n" y="-7"><tspan x="32">133</tspan><tspan x="277">134</tspan><tspan x="522">135</tspan><tspan x="767">136</tspan></text>
<text class="a" y="76"><tspan x="275.5">288</tspan><tspan x="520.5">396</tspan><tspan x="765.5">252</tspan><tspan x="1010.5">396</tspan></text>
<text class="b" y="89"><tspan x="275.5">197732</tspan><tspan x="520.5">200900</tspan><tspan x="765.5">201908</tspan><tspan x="1010.5">203492</tspan></text>
<text class="c" y="102"><tspan x="275.5">10.92%</tspan><tspan x="520.5">0.00%</tspan><tspan x="765.5">0.00%</tspan><tspan x="1010.5">0.00%</tspan></text>
</g>

<g id="row34" transform="translate(0,5419)"><use href="#grid4"/>
<use href="#SR" x="32"/><use href="#SB" x="62.6"/><use href="#SY" x="93.3"/><use href="#SR" x="123.9"/><rect class="zb" x="154.5" y="42" width="61.3" height="6"/><use href="#SB" x="154.5"/><use href="#SG" x="246.4"/>
<use href="#b4e" x="277"/><use href="#y4o" x="277"/><use href="#R" x="292.3"/><use href="#R" x="353.6"/><use href="#R" x="384.2"/><use href="#R" x="414.8"/><use href="#R" x="476.1"/><use href="#G" x="322.9"/><use href="#G" x="445.4"/><use href="#G" x="506.7"/>
<use href="#b4e" x="522"/><use href="#y4o" x="522"/><use href="#R" x="537.3"/><use href="#R" x="598.6"/><use href="#R" x="629.2"/><use href="#R" x="659.8"/><use href="#R" x="690.4"/><use href="#R" x="721.1"/><use href="#R" x="751.7"/><use href="#G" x="567.9"/>
<use href="#q1" x="767"/>
<rect class="og" x="32" y="0" width="214.7" height="60"/><rect class="oR" x="277" y="0" width="6" height="60"/><rect class="ob" x="277" y="0" width="496" height="60"/><rect class="oR" x="773" y="0" width="8" height="60"/>
<text class="n" y="-7"><tspan x="32">137</tspan><tspan x="277">138</tspan><tspan x="522">139</tspan><tspan x="767">140</tspan></text>
<text class="a" y="76"><tspan x="275.5">228</tspan><tspan x="520.5">576</tspan><tspan x="765.5">576</tspan><tspan x="1010.5">576</tspan></text>
<text class="b" y="89"><tspan x="275.5">204404</tspan><tspan x="520.5">209012</tspan><tspan x="765.5">213620</tspan><tspan x="1010.5">216212</tspan></text>
<text class="c" y="102"><tspan x="275.5">25.00%</tspan><tspan x="520.5">12.87%</tspan><tspan x="765.5">0.37%</tspan><tspan x="1010.5">0.00%</tspan></text>
</g>

<g id="row35" transform="translate(0,5572)"><use href="#grid4"/>
<use href="#G" x="47.3"/><use href="#G" x="77.9"/><use href="#G" x="108.6"/><use href="#G" x="139.2"/><use href="#G" x="169.8"/><use href="#G" x="200.4"/><use href="#Y" x="62.6"/><use href="#Y" x="123.9"/><use href="#Y" x="185.1"/><use href="#B" x="32"/><use href="#B" x="93.3"/><use href="#B" x="154.5"/><use href="#B" x="215.8"/>
<use href="#R" x="277"/><use href="#Y" x="307.6"/><rect class="zy" x="368.9" y="27" width="61.2" height="6"/><use href="#Y" x="368.9"/><rect class="zy" x="460.8" y="27" width="61.2" height="6"/><use href="#Y" x="460.8"/>
<rect class="zy" x="552.6" y="27" width="61.3" height="6"/><use href="#Y" x="552.6"/><rect class="zy" x="644.5" y="27" width="61.3" height="6"/><use href="#Y" x="644.5"/><use href="#Y" x="736.4"/>
<use href="#R" x="767"/><use href="#R" x="966"/><use href="#R" x="996.7"/><rect class="zb" x="787.3" y="42" width="148" height="6"/><use href="#B" x="787.3"/><use href="#B" x="981.4"/>
<text class="n" y="-7"><tspan x="32">141</tspan><tspan x="277">142</tspan><tspan x="522">143</tspan><tspan x="767">144</tspan></text>
<text class="a" y="76"><tspan x="275.5">468</tspan><tspan x="520.5">167</tspan><tspan x="765.5">133</tspan><tspan x="1010.5">209</tspan></text>
<text class="b" y="89"><tspan x="275.5">218084</tspan><tspan x="520.5">218752</tspan><tspan x="765.5">219284</tspan><tspan x="1010.5">220120</tspan></text>
<text class="c" y="102"><tspan x="275.5">0.00%</tspan><tspan x="520.5">0.00%</tspan><tspan x="765.5">0.00%</tspan><tspan x="1010.5">0.00%</tspan></text>
</g>

<g id="row36" transform="translate(0,5725)"><use href="#grid4"/>
<use href="#Y" x="32"/><use href="#Y" x="86.4"/><use href="#Y" x="140.9"/><use href="#Y" x="195.3"/><use href="#Y" x="249.8"/>
<use href="#R" x="45.6"/><use href="#R" x="72.8"/><use href="#R" x="100.1"/><use href="#R" x="127.3"/><use href="#R" x="154.5"/><use href="#R" x="181.7"/><use href="#R" x="208.9"/><use href="#R" x="236.2"/>
<use href="#B" x="59.2"/><use href="#B" x="113.7"/><use href="#B" x="168.1"/><use href="#B" x="222.6"/>
<rect class="zo" x="277" y="57" width="459.4" height="6"/><use href="#SO" x="277"/>
<rect class="zg" x="767" y="-3" width="214.4" height="6"/><rect class="zy" x="767" y="27" width="214.4" height="6"/><use href="#G" x="767"/><use href="#Y" x="767"/>
<rect class="og" x="277" y="0" width="459.4" height="60"/>
<text class="n" y="-7"><tspan x="32">145</tspan><tspan x="277">146</tspan><tspan x="522">147</tspan><tspan x="767">148</tspan></text>
<text class="a" y="76"><tspan x="275.5">612</tspan><tspan x="520.5">83</tspan><tspan x="765.5">43</tspan><tspan x="1010.5">156</tspan></text>
<text class="b" y="89"><tspan x="275.5">222568</tspan><tspan x="520.5">222900</tspan><tspan x="765.5">223072</tspan><tspan x="1010.5">223696</tspan></text>
<text class="c" y="102"><tspan x="275.5">0.00%</tspan><tspan x="520.5">25.00%</tspan><tspan x="765.5">25.00%</tspan><tspan x="1010.5">25.00%</tspan></text>
</g>

<g id="row37" transform="translate(0,5878)"><use href="#grid4"/>
<rect class="zr" x="32" y="12" width="91.9" height="6"/><rect class="zo" x="32" y="57" width="91.9" height="6"/><use href="#R" x="32"/><use href="#O" x="32"/>
<rect class="zr" x="154.5" y="12" width="91.9" height="6"/><rect class="zb" x="154.5" y="42" width="91.9" height="6"/><use href="#R" x="154.5"/><use href="#B" x="154.5"/>
<rect class="zr" x="277" y="12" width="459.4" height="6"/><rect class="zy" x="277" y="27" width="459.4" height="6"/><use href="#R" x="277"/><use href="#Y" x="277"/>
<use href="#G" x="767"/><use href="#G" x="858.9"/><use href="#G" x="950.8"/><use href="#R" x="828.3"/><use href="#R" x="920.1"/><use href="#Y" x="767"/><use href="#Y" x="828.3"/><use href="#Y" x="858.9"/><use href="#Y" x="920.1"/><use href="#Y" x="950.8"/>
<rect class="oR" x="767" y="0" width="4" height="60"/><rect class="ob" x="767" y="0" width="245" height="60"/>
<text class="n" y="-7"><tspan x="32">149</tspan><tspan x="277">150</tspan><tspan x="522">151</tspan><tspan x="767">152</tspan></text>
<text class="a" y="76"><tspan x="275.5">216</tspan><tspan x="520.5">166</tspan><tspan x="765.5">86</tspan><tspan x="1010.5">360</tspan></text>
<text class="b" y="89"><tspan x="275.5">224560</tspan><tspan x="520.5">225224</tspan><tspan x="765.5">225568</tspan><tspan x="1010.5">228448</tspan></text>
<text class="c" y="102"><tspan x="275.5">25.00%</tspan><tspan x="520.5">25.00%</tspan><tspan x="765.5">25.00%</tspan><tspan x="1010.5">12.73%</tspan></text>
</g>

<g id="row38" transform="translate(0,6031)"><use href="#grid4"/>
<use href="#G" x="62.6"/><use href="#G" x="154.5"/><use href="#R" x="32"/><use href="#R" x="123.9"/><use href="#R" x="215.8"/><use href="#Y" x="32"/><use href="#Y" x="62.6"/><use href="#Y" x="123.9"/><use href="#Y" x="154.5"/><use href="#Y" x="215.8"/>
<rect class="zg" x="277" y="-3" width="398.1" height="6"/><rect class="zy" x="277" y="27" width="398.1" height="6"/><use href="#SG" x="277"/><use href="#SY" x="277"/>
<use href="#SG" x="705.8"/><use href="#SY" x="705.8"/>
<rect class="zg" x="828.3" y="-3" width="61.2" height="6"/><use href="#G" x="828.3"/><rect class="zo" x="920.1" y="57" width="61.3" height="6"/><use href="#O" x="920.1"/>
<rect class="ob" x="32" y="0" width="248" height="60"/><rect class="og" x="277" y="0" width="428.8" height="60"/><rect class="oR" x="826.5" y="0" width="3" height="60"/><rect class="ob" x="828.3" y="0" width="183.7" height="60"/>
<text class="n" y="-7"><tspan x="32">153</tspan><tspan x="277">154</tspan><tspan x="522">155</tspan><tspan x="767">156</tspan></text>
<text class="a" y="76"><tspan x="275.5">360</tspan><tspan x="520.5">166</tspan><tspan x="765.5">134</tspan><tspan x="1010.5">96</tspan></text>
<text class="b" y="89"><tspan x="275.5">231328</tspan><tspan x="520.5">232288</tspan><tspan x="765.5">232824</tspan><tspan x="1010.5">233592</tspan></text>
<text class="c" y="102"><tspan x="275.5">0.23%</tspan><tspan x="520.5">0.00%</tspan><tspan x="765.5">25.00%</tspan><tspan x="1010.5">15.86%</tspan></text>
</g>

<g id="row39" transform="translate(0,6184)"><use href="#grid4"/>
<rect class="zb" x="32" y="42" width="61.3" height="6"/><use href="#B" x="32"/><rect class="zr" x="123.9" y="12" width="61.2" height="6"/><use href="#R" x="123.9"/><rect class="zy" x="215.8" y="27" width="91.8" height="6"/><use href="#Y" x="215.8"/>
<rect class="zg" x="338.3" y="-3" width="61.2" height="6"/><use href="#G" x="338.3"/><rect class="zo" x="430.1" y="57" width="61.3" height="6"/><use href="#O" x="430.1"/>
<rect class="zb" x="522" y="42" width="61.3" height="6"/><use href="#B" x="522"/><rect class="zy" x="613.9" y="27" width="61.2" height="6"/><use href="#Y" x="613.9"/><rect class="zr" x="705.8" y="12" width="91.8" height="6"/><use href="#R" x="705.8"/>
<rect class="zg" x="828.3" y="-3" width="61.2" height="6"/><use href="#G" x="828.3"/><rect class="zo" x="920.1" y="57" width="61.3" height="6"/><use href="#O" x="920.1"/>
<rect class="ob" x="32" y="0" width="310" height="60"/>
<text class="n" y="-7"><tspan x="32">157</tspan><tspan x="277">158</tspan><tspan x="522">159</tspan><tspan x="767">160</tspan></text>
<text class="a" y="76"><tspan x="275.5">143</tspan><tspan x="520.5">103</tspan><tspan x="765.5">143</tspan><tspan x="1010.5">103</tspan></text>
<text class="b" y="89"><tspan x="275.5">234736</tspan><tspan x="520.5">235324</tspan><tspan x="765.5">235896</tspan><tspan x="1010.5">236308</tspan></text>
<text class="c" y="102"><tspan x="275.5">3.36%</tspan><tspan x="520.5">0.00%</tspan><tspan x="765.5">0.00%</tspan><tspan x="1010.5">0.00%</tspan></text>
</g>

<g id="row40" transform="translate(0,6337)"><use href="#grid4"/>
<rect class="zb" x="32" y="42" width="61.3" height="6"/><use href="#B" x="32"/><rect class="zr" x="123.9" y="12" width="61.2" height="6"/><use href="#R" x="123.9"/><rect class="zy" x="215.8" y="27" width="91.8" height="6"/><use href="#Y" x="215.8"/>
<rect class="zg" x="338.3" y="-3" width="61.2" height="6"/><use href="#G" x="338.3"/><rect class="zo" x="430.1" y="57" width="61.3" height="6"/><use href="#O" x="430.1"/>
<rect class="zb" x="522" y="42" width="61.3" height="6"/><use href="#SB" x="522"/><rect class="zy" x="613.9" y="27" width="61.2" height="6"/><use href="#SY" x="613.9"/><use href="#SR" x="705.8"/>
<rect class="zb" x="767" y="42" width="245" height="6"/><use href="#B" x="767"/>
<rect class="og" x="522" y="0" width="183.8" height="60"/>
<text class="n" y="-7"><tspan x="32">161</tspan><tspan x="277">162</tspan><tspan x="522">163</tspan><tspan x="767">164</tspan></text>
<text class="a" y="76"><tspan x="275.5">143</tspan><tspan x="520.5">103</tspan><tspan x="765.5">132</tspan><tspan x="1010.5">83</tspan></text>
<text class="b" y="89"><tspan x="275.5">236880</tspan><tspan x="520.5">237292</tspan><tspan x="765.5">237820</tspan><tspan x="1010.5">238152</tspan></text>
<text class="c" y="102"><tspan x="275.5">0.00%</tspan><tspan x="520.5">0.00%</tspan><tspan x="765.5">25.00%</tspan><tspan x="1010.5">25.00%</tspan></text>
</g>

<g id="row41" transform="translate(0,6490)"><use href="#grid4"/>
<rect class="zb" x="32" y="42" width="214.4" height="6"/>
<use href="#r8" x="277"/><use href="#B" x="338.3"/><use href="#B" x="430.1"/>
<use href="#r8" x="522"/><use href="#B" x="522"/><use href="#B" x="613.9"/><use href="#B" x="705.8"/>
<rect class="zg" x="828.3" y="-3" width="61.2" height="6"/><use href="#G" x="828.3"/><rect class="zb" x="920.1" y="42" width="61.3" height="6"/><use href="#B" x="920.1"/>
<text class="n" y="-7"><tspan x="32">165</tspan><tspan x="277">166</tspan><tspan x="522">167</tspan><tspan x="767">168</tspan></text>
<text class="a" y="76"><tspan x="275.5">43</tspan><tspan x="520.5">360</tspan><tspan x="765.5">396</tspan><tspan x="1010.5">96</tspan></text>
<text class="b" y="89"><tspan x="275.5">238324</tspan><tspan x="520.5">239764</tspan><tspan x="765.5">241348</tspan><tspan x="1010.5">241732</tspan></text>
<text class="c" y="102"><tspan x="275.5">25.00%</tspan><tspan x="520.5">25.00%</tspan><tspan x="765.5">25.00%</tspan><tspan x="1010.5">25.00%</tspan></text>
</g>

<g id="row42" transform="translate(0,6643)"><use href="#grid4"/>
<rect class="zy" x="32" y="27" width="61.3" height="6"/><use href="#Y" x="32"/><rect class="zg" x="123.9" y="-3" width="61.2" height="6"/><use href="#G" x="123.9"/><rect class="zy" x="215.8" y="27" width="91.8" height="6"/><use href="#Y" x="215.8"/>
<rect class="zr" x="338.3" y="12" width="61.2" height="6"/><use href="#R" x="338.3"/><rect class="zo" x="430.1" y="57" width="61.3" height="6"/><use href="#O" x="430.1"/>
<rect class="zb" x="522" y="42" width="61.3" height="6"/><use href="#SB" x="522"/><rect class="zy" x="613.9" y="27" width="61.2" height="6"/><use href="#SY" x="613.9"/><rect class="zr" x="705.8" y="12" width="61.2" height="6"/><use href="#SR" x="705.8"/>
<rect class="zg" x="828.3" y="-3" width="61.2" height="6"/><use href="#G" x="828.3"/><rect class="zb" x="920.1" y="42" width="61.3" height="6"/><use href="#B" x="920.1"/>
<rect class="og" x="522" y="0" width="245" height="60"/>
<text class="n" y="-7"><tspan x="32">169</tspan><tspan x="277">170</tspan><tspan x="522">171</tspan><tspan x="767">172</tspan></text>
<text class="a" y="76"><tspan x="275.5">143</tspan><tspan x="520.5">103</tspan><tspan x="765.5">143</tspan><tspan x="1010.5">97</tspan></text>
<text class="b" y="89"><tspan x="275.5">242304</tspan><tspan x="520.5">242716</tspan><tspan x="765.5">243288</tspan><tspan x="1010.5">243676</tspan></text>
<text class="c" y="102"><tspan x="275.5">25.00%</tspan><tspan x="520.5">25.00%</tspan><tspan x="765.5">50.00%</tspan><tspan x="1010.5">50.00%</tspan></text>
</g>

<g id="row43" transform="translate(0,6796)"><use href="#grid4"/><use href="#P43"/>
<text class="n" y="-7"><tspan x="32">173</tspan><tspan x="277">174</tspan><tspan x="522">175</tspan><tspan x="767">176</tspan></text>
<text class="a" y="76"><tspan x="275.5">143</tspan><tspan x="520.5">103</tspan><tspan x="765.5">143</tspan><tspan x="1010.5">97</tspan></text>
<text class="b" y="89"><tspan x="275.5">244248</tspan><tspan x="520.5">244660</tspan><tspan x="765.5">245232</tspan><tspan x="1010.5">245620</tspan></text>
<text class="c" y="102"><tspan x="275.5">50.00%</tspan><tspan x="520.5">50.00%</tspan><tspan x="765.5">50.00%</tspan><tspan x="1010.5">50.00%</tspan></text>
</g>

<g id="row44" transform="translate(0,6949)"><use href="#grid4"/><use href="#P43"/>
<text class="n" y="-7"><tspan x="32">177</tspan><tspan x="277">178</tspan><tspan x="522">179</tspan><tspan x="767">180</tspan></text>
<text class="a" y="76"><tspan x="275.5">143</tspan><tspan x="520.5">103</tspan><tspan x="765.5">143</tspan><tspan x="1010.5">97</tspan></text>
<text class="b" y="89"><tspan x="275.5">246192</tspan><tspan x="520.5">246604</tspan><tspan x="765.5">247176</tspan><tspan x="1010.5">247564</tspan></text>
<text class="c" y="102"><tspan x="275.5">50.00%</tspan><tspan x="520.5">50.00%</tspan><tspan x="765.5">50.00%</tspan><tspan x="1010.5">50.00%</tspan></text>
</g>

<g id="row45" transform="translate(0,7102)"><use href="#grid4"/>
<rect class="zy" x="32" y="27" width="61.3" height="6"/><use href="#Y" x="32"/><rect class="zg" x="123.9" y="-3" width="61.2" height="6"/><use href="#G" x="123.9"/><use href="#Y" x="215.8"/>
<use href="#r8" x="277"/><use href="#B" x="307.6"/><use href="#B" x="338.3"/><use href="#B" x="399.5"/><use href="#B" x="430.1"/><use href="#B" x="491.4"/>
<use href="#r8" x="522"/><use href="#B" x="552.6"/><use href="#B" x="644.5"/><use href="#B" x="675.1"/><use href="#B" x="736.4"/>
<use href="#r8" x="767"/><use href="#B" x="797.6"/><use href="#B" x="889.5"/><use href="#B" x="920.1"/><use href="#B" x="981.4"/>
<rect class="oR" x="277" y="0" width="4" height="60"/><rect class="ob" x="277" y="0" width="735" height="60"/>
<text class="n" y="-7"><tspan x="32">181</tspan><tspan x="277">182</tspan><tspan x="522">183</tspan><tspan x="767">184</tspan></text>
<text class="a" y="76"><tspan x="275.5">132</tspan><tspan x="520.5">468</tspan><tspan x="765.5">432</tspan><tspan x="1010.5">432</tspan></text>
<text class="b" y="89"><tspan x="275.5">248092</tspan><tspan x="520.5">251836</tspan><tspan x="765.5">255292</tspan><tspan x="1010.5">258748</tspan></text>
<text class="c" y="102"><tspan x="275.5">50.00%</tspan><tspan x="520.5">37.73%</tspan><tspan x="765.5">25.23%</tspan><tspan x="1010.5">12.73%</tspan></text>
</g>

<g id="row46" transform="translate(0,7255)"><use href="#grid2"/>
<use href="#R" x="32"/><use href="#R" x="62.6"/><use href="#R" x="93.3"/><use href="#R" x="123.9"/><use href="#R" x="154.5"/><use href="#R" x="185.1"/><use href="#R" x="215.8"/><use href="#B" x="62.6"/><use href="#B" x="185.1"/><use href="#B" x="215.8"/><use href="#O" x="123.9"/>
<rect class="zg" x="277" y="-3" width="153.1" height="6"/><rect class="zb" x="277" y="42" width="153.1" height="6"/><use href="#G" x="277"/><use href="#B" x="277"/>
<rect class="ob" x="32" y="0" width="249" height="60"/>
<text class="n" y="-7"><tspan x="32">185</tspan><tspan x="277">186</tspan></text>
<text class="a" y="76"><tspan x="275.5">396</tspan><tspan x="520.5">132</tspan></text>
<text class="b" y="89"><tspan x="275.5">261916</tspan><tspan x="520.5">262740</tspan></text>
<text class="c" y="102"><tspan x="275.5">0.23%</tspan><tspan x="520.5">0.00%</tspan></text>
</g>
</g>
</svg>
